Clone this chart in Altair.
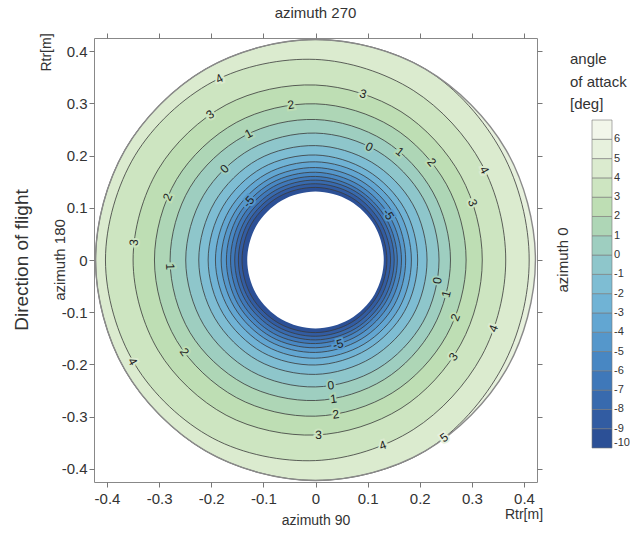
import altair as alt
import pandas as pd

# ---------------------------------------------------------------- data
# directions (deg, counter-clockwise from the "azimuth 0" side = +x) at which
# the radius of every iso-line was read off the picture
AZIMUTH = [0, 30, 60, 90, 120, 150, 180, 210, 240, 270, 300, 330]

# radius [m] of the iso-line of each angle-of-attack level along AZIMUTH
CONTOUR_RADII = {
    5:  [0.410, 0.413, 0.422, 0.422, 0.422, 0.422, 0.422, 0.422, 0.422, 0.422, 0.422, 0.413],
    4:  [0.365, 0.368, 0.375, 0.384, 0.394, 0.400, 0.403, 0.400, 0.394, 0.384, 0.375, 0.368],
    3:  [0.320, 0.322, 0.328, 0.335, 0.343, 0.348, 0.350, 0.348, 0.343, 0.335, 0.328, 0.322],
    2:  [0.289, 0.290, 0.294, 0.299, 0.304, 0.308, 0.309, 0.308, 0.304, 0.299, 0.294, 0.290],
    1:  [0.259, 0.260, 0.264, 0.269, 0.274, 0.278, 0.279, 0.278, 0.274, 0.269, 0.264, 0.260],
    0:  [0.237, 0.238, 0.240, 0.243, 0.246, 0.248, 0.249, 0.248, 0.246, 0.243, 0.240, 0.238],
    -1: [0.214, 0.215, 0.216, 0.219, 0.222, 0.223, 0.224, 0.223, 0.222, 0.219, 0.216, 0.215],
    -2: [0.196, 0.197, 0.198, 0.201, 0.204, 0.205, 0.206, 0.205, 0.204, 0.201, 0.198, 0.197],
    -3: [0.184, 0.185, 0.186, 0.188, 0.190, 0.191, 0.192, 0.191, 0.190, 0.188, 0.186, 0.185],
    -4: [0.173, 0.174, 0.175, 0.177, 0.179, 0.180, 0.181, 0.180, 0.179, 0.177, 0.175, 0.174],
    -5: [0.165, 0.165, 0.166, 0.168, 0.170, 0.171, 0.171, 0.171, 0.170, 0.168, 0.166, 0.165],
    -6: [0.157, 0.157, 0.158, 0.160, 0.162, 0.163, 0.163, 0.163, 0.162, 0.160, 0.158, 0.157],
    -7: [0.151, 0.151, 0.152, 0.153, 0.154, 0.155, 0.155, 0.155, 0.154, 0.153, 0.152, 0.151],
    -8: [0.144, 0.144, 0.145, 0.146, 0.147, 0.148, 0.148, 0.148, 0.147, 0.146, 0.145, 0.144],
    -9: [0.137, 0.137, 0.138, 0.139, 0.140, 0.141, 0.141, 0.141, 0.140, 0.139, 0.138, 0.137],
}
OUTER_RADIUS = [0.422] * 12    # rotor disc edge
HOLE_RADIUS = [0.131] * 12     # blank hub region

# colour bands [-10,-9) ... [6,7)
BAND_COLORS = ["#2c5096", "#325ca2", "#386aae", "#3f78b9", "#4887c3", "#5597cb",
               "#62a6d2", "#70b3d5", "#7ebdd3", "#8ec6cb", "#9ecec0", "#aed6b6",
               "#bedeb4", "#cde5c1", "#dbebcf", "#e7f1dd", "#f2f6ea"]
BAND_DOMAIN = [-10, 7]

# contour labels: text, azimuth (deg), radius (m)
LABEL_TEXT = ["4", "3", "3", "2", "1", "0", "0", "1", "2", "4", "3", "-5", "-5", "2", "3",
              "1", "2", "4", "0", "1", "2", "3", "4", "-5", "0", "1", "2", "3", "4", "5"]
LABEL_AZ = [118, 74, 126, 99, 118, 135, 64.5, 52, 40, 28, 20, 139, 32, 157, 174.5,
            182.6, 215, 209, 350.5, 345.4, 337.7, 325, 339, 285, 277, 277.4, 277.5, 271, 290, 306]
LABEL_R = [0.393, 0.331, 0.344, 0.301, 0.274, 0.247, 0.240, 0.263, 0.291, 0.367, 0.321, 0.170,
           0.165, 0.308, 0.350, 0.279, 0.307, 0.401, 0.237, 0.259, 0.290, 0.323, 0.366, 0.167,
           0.242, 0.268, 0.298, 0.335, 0.3775, 0.420]

TICKS = [-0.4, -0.3, -0.2, -0.1, 0, 0.1, 0.2, 0.3, 0.4]
AXIS_DOMAIN = [-0.425, 0.425]

# ---------------------------------------------------------------- tables
rows = []
shapes = [("outer", 5.5, OUTER_RADIUS)]
for lvl, radii in CONTOUR_RADII.items():
    shapes.append((f"c{lvl}", lvl - 0.5, radii))
shapes.append(("hole", None, HOLE_RADIUS))
for name, band, radii in shapes:
    for k, (az, r) in enumerate(zip(AZIMUTH, radii)):
        rows.append({"shape": name, "band": band, "k": k, "az": az, "r": r})
shape_df = pd.DataFrame(rows)

labels_df = pd.DataFrame({"text": LABEL_TEXT, "az": LABEL_AZ, "r": LABEL_R})
labels_df["bv"] = [float(t) + 0.5 for t in LABEL_TEXT]

FONT = "Liberation Sans"
TXT = "#333333"
W, H = 443, 444

XS = alt.Scale(domain=AXIS_DOMAIN, nice=False, zero=False)
YS = alt.Scale(domain=AXIS_DOMAIN, nice=False, zero=False)
band_scale = alt.Scale(type="quantize", domain=BAND_DOMAIN, range=BAND_COLORS, nice=False)

legend = alt.Legend(
    orient="none", legendX=498, legendY=82, title=None, type="gradient",
    direction="vertical", gradientLength=328, gradientThickness=20,
    gradientStrokeColor="#777777", gradientStrokeWidth=0.6,
    labelFont=FONT, labelFontSize=11, labelColor=TXT, labelOffset=2,
    labelExpr=("isValid(datum.value) && isFinite(datum.value) ? "
               "replace(format(datum.value, 'd'), '−', '-') : "
               "replace(format(domain('color')[0], 'd'), '−', '-')"),
)

polar = dict(
    px="datum.r * cos(datum.az * PI / 180)",
    py="datum.r * sin(datum.az * PI / 180)",
)

base = alt.Chart(shape_df).transform_calculate(**polar)

fill_layers = []
for name, band, _ in shapes:
    ch = base.transform_filter(alt.datum.shape == name)
    if band is None:
        ch = ch.mark_line(interpolate="cardinal-closed", filled=True, strokeWidth=0).encode(
            color=alt.value("white"))
    else:
        ch = ch.mark_line(interpolate="cardinal-closed", filled=True, strokeWidth=0).encode(
            color=alt.Color("band:Q", scale=band_scale, legend=legend))
    ch = ch.encode(
        x=alt.X("px:Q", scale=XS, axis=None),
        y=alt.Y("py:Q", scale=YS, axis=None),
        order=alt.Order("k:Q"),
    )
    fill_layers.append(ch)

contour_lines = base.transform_filter(
    (alt.datum.shape != "outer") & (alt.datum.shape != "hole")
).mark_line(interpolate="cardinal-closed", color="#3a3a3a", strokeWidth=0.8).encode(
    x=alt.X("px:Q", scale=XS, axis=None),
    y=alt.Y("py:Q", scale=YS, axis=None),
    detail="shape:N",
    order=alt.Order("k:Q"),
)

outer_line = base.transform_filter(alt.datum.shape == "outer").mark_line(
    interpolate="cardinal-closed", color="#8a8a8a", strokeWidth=1.4
).encode(
    x=alt.X("px:Q", scale=XS, axis=None),
    y=alt.Y("py:Q", scale=YS, axis=None),
    order=alt.Order("k:Q"),
)

lab_base = alt.Chart(labels_df).transform_calculate(
    **polar,
    ang="((((90 - datum.az) + 90) % 180 + 180) % 180 - 90 + 360) % 360",
)
label_halo = lab_base.mark_text(font=FONT, fontSize=12, strokeWidth=4).encode(
    x=alt.X("px:Q", scale=XS, axis=None),
    y=alt.Y("py:Q", scale=YS, axis=None),
    text="text:N",
    angle=alt.Angle("ang:Q", scale=None),
    stroke=alt.Stroke("bv:Q", scale=band_scale, legend=None),
)
label_text = lab_base.mark_text(font=FONT, fontSize=12, color="#222222").encode(
    x=alt.X("px:Q", scale=XS, axis=None),
    y=alt.Y("py:Q", scale=YS, axis=None),
    text="text:N",
    angle=alt.Angle("ang:Q", scale=None),
)

axis_common = dict(
    values=TICKS, domain=False, ticks=True, tickSize=5, tickColor="#777777",
    labelFont=FONT, labelFontSize=15, labelColor=TXT, grid=False,
    labelExpr="datum.value == 0 ? '0' : replace(format(datum.value, '.1f'), '−', '-')",
    titleFont=FONT, titleFontSize=14, titleColor=TXT, titleFontWeight="normal",
)
anchor_df = pd.DataFrame({"px": [0.0], "py": [0.0]})
axes_main = alt.Chart(anchor_df).mark_point(opacity=0).encode(
    x=alt.X("px:Q", scale=XS, title="azimuth 90",
            axis=alt.Axis(orient="bottom", labelPadding=4, titleX=W / 2, titleY=38,
                          titleAlign="center", titleBaseline="middle", **axis_common)),
    y=alt.Y("py:Q", scale=YS, title="Rtr[m]",
            axis=alt.Axis(orient="left", labelPadding=2, titleX=-48, titleY=14, titleAngle=270,
                          titleAlign="center", titleBaseline="middle", **axis_common)),
)
axes_frame = alt.Chart(anchor_df).mark_point(opacity=0).encode(
    x=alt.X("px:Q", scale=XS, title=None,
            axis=alt.Axis(orient="top", labels=False, ticks=True, values=TICKS, domain=False,
                          tickSize=5, tickColor="#777777", grid=False)),
    y=alt.Y("py:Q", scale=YS, title=None,
            axis=alt.Axis(orient="right", labels=False, ticks=True, values=TICKS, domain=False,
                          tickSize=5, tickColor="#777777", grid=False)),
)

txt = dict(font=FONT, color=TXT)
t_top = alt.Chart(anchor_df).mark_text(fontSize=15, **txt).encode(
    x=alt.X("px:Q", scale=XS, axis=None), y=alt.value(-25), text=alt.value("azimuth 270"))
t_rtr = alt.Chart(anchor_df).mark_text(fontSize=14, **txt).encode(
    x=alt.XDatum(0.4, scale=XS, axis=None), y=alt.value(H + 33), text=alt.value("Rtr[m]"))
t_180 = alt.Chart(anchor_df).mark_text(fontSize=15, angle=270, **txt).encode(
    x=alt.value(-34), y=alt.Y("py:Q", scale=YS, axis=None), text=alt.value("azimuth 180"))
t_dir = alt.Chart(anchor_df).mark_text(fontSize=19, angle=270, **txt).encode(
    x=alt.value(-72), y=alt.Y("py:Q", scale=YS, axis=None), text=alt.value("Direction of flight"))
t_0 = alt.Chart(anchor_df).mark_text(fontSize=15, angle=270, **txt).encode(
    x=alt.value(W + 26), y=alt.Y("py:Q", scale=YS, axis=None), text=alt.value("azimuth 0"))
t_leg = alt.Chart(anchor_df).mark_text(fontSize=15, align="left", baseline="top",
                                       lineHeight=22.5, **txt).encode(
    x=alt.value(476), y=alt.value(14), text=alt.value(["angle", "of attack", "[deg]"]))

chart = alt.layer(
    *fill_layers, contour_lines, outer_line, label_halo, label_text,
    axes_main, axes_frame, t_top, t_rtr, t_180, t_dir, t_0, t_leg,
).resolve_axis(x="independent", y="independent").properties(
    width=W, height=H,
    autosize=alt.AutoSizeParams(type="none"),
    padding={"left": 94, "top": 38, "right": 93, "bottom": 52},
    background="white",
).configure_view(stroke="#888888", strokeWidth=1)

chart.save("out.html", embed_options={"renderer": "svg", "actions": False})
